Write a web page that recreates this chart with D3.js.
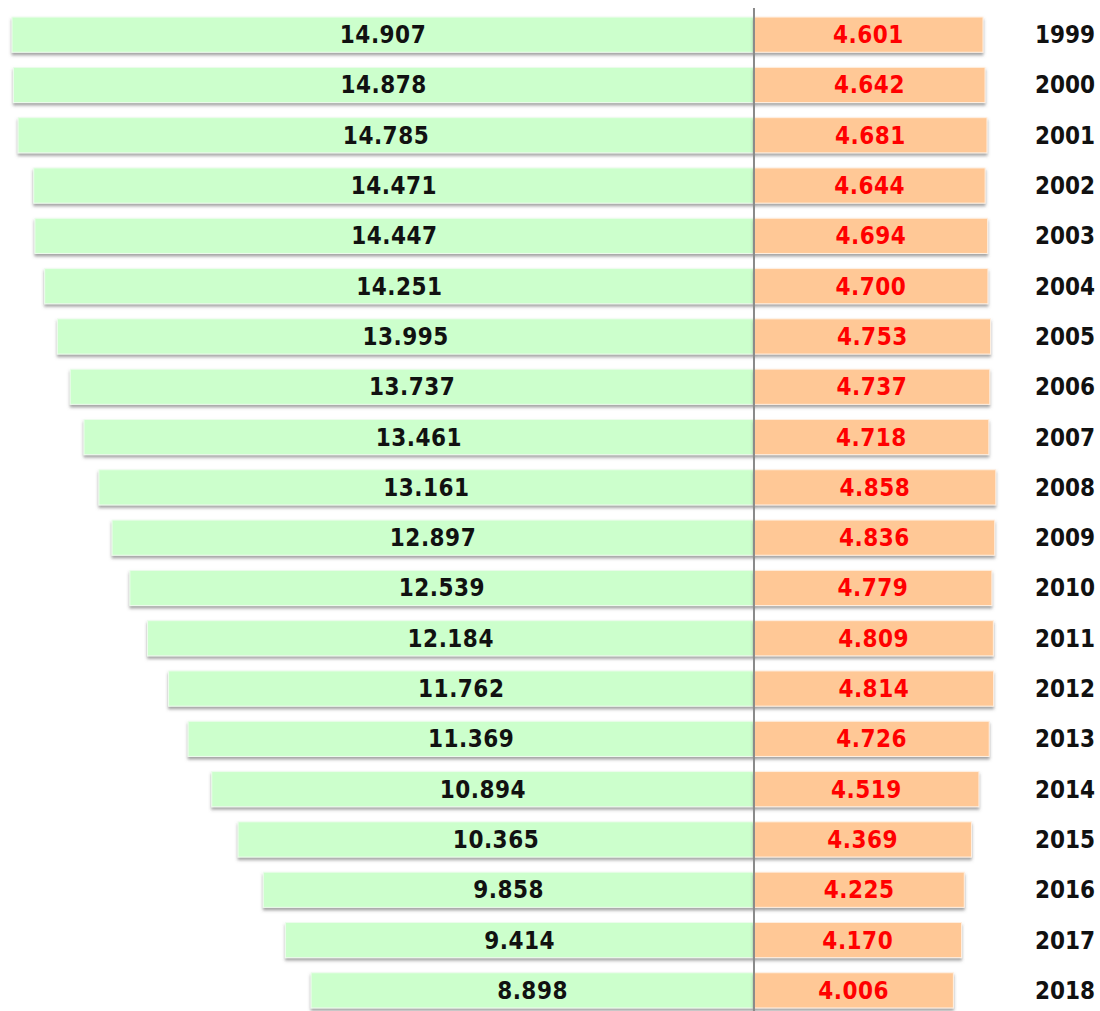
<!DOCTYPE html>
<html>
<head>
<meta charset="utf-8">
<script src="https://cdn.jsdelivr.net/npm/d3@7"></script>
<style>
  body { margin: 0; background: #fff; }
  svg text { font-family: "DejaVu Sans Condensed", "DejaVu Sans", sans-serif; font-stretch: condensed; font-weight: bold; }
</style>
</head>
<body>
<div id="chart"></div>
<script>
const years = [1999, 2000, 2001, 2002, 2003, 2004, 2005, 2006, 2007, 2008,
    2009, 2010, 2011, 2012, 2013, 2014, 2015, 2016, 2017, 2018];
const leftValues = [14.907, 14.878, 14.785, 14.471, 14.447, 14.251, 13.995, 13.737, 13.461, 13.161,
    12.897, 12.539, 12.184, 11.762, 11.369, 10.894, 10.365, 9.858, 9.414, 8.898];
const rightValues = [4.601, 4.642, 4.681, 4.644, 4.694, 4.700, 4.753, 4.737, 4.718, 4.858,
    4.836, 4.779, 4.809, 4.814, 4.726, 4.519, 4.369, 4.225, 4.170, 4.006];

const colors = {
    left: '#ccffcc',
    right: '#ffc896',
    leftText: '#111111',
    rightText: '#ff0000',
    year: '#111111',
    axis: '#8a8a8a'
};

const width = 1100;
const height = 1011;

const rows = years.map((year, i) => ({ year, left: leftValues[i], right: rightValues[i] }));

const x = d3.scaleLinear()
    .domain([-14.907, 4.601])
    .range([12, 983]);

const y = d3.scaleBand()
    .domain(years)
    .range([9.5, 1015.5])
    .paddingInner(0.3)
    .paddingOuter(0.15);

const fmt = d3.format('.3f');

const svg = d3.select('#chart')
    .append('svg')
    .attr('width', width)
    .attr('height', height);

// soft drop shadow under each bar
const filter = svg.append('defs')
    .append('filter')
    .attr('id', 'shadow')
    .attr('x', '-5%')
    .attr('y', '-20%')
    .attr('width', '110%')
    .attr('height', '160%');
filter.append('feDropShadow')
    .attr('dx', 0)
    .attr('dy', 2.5)
    .attr('stdDeviation', 1.5)
    .attr('flood-color', '#555')
    .attr('flood-opacity', 0.55);

const row = svg.selectAll('g.row')
    .data(rows)
    .enter()
    .append('g')
    .attr('class', 'row');

// green bars (left)
row.append('rect')
    .attr('x', d => x(-d.left))
    .attr('y', d => y(d.year))
    .attr('width', d => x(0) - x(-d.left))
    .attr('height', y.bandwidth())
    .attr('fill', colors.left)
    .attr('stroke', '#eefcee')
    .attr('stroke-width', 1)
    .attr('filter', 'url(#shadow)');

// orange bars (right)
row.append('rect')
    .attr('x', x(0))
    .attr('y', d => y(d.year))
    .attr('width', d => x(d.right) - x(0))
    .attr('height', y.bandwidth())
    .attr('fill', colors.right)
    .attr('stroke', '#fff0e2')
    .attr('stroke-width', 1)
    .attr('filter', 'url(#shadow)');

const fontSize = 24;

row.append('text')
    .attr('x', d => (x(-d.left) + x(0)) / 2)
    .attr('y', d => y(d.year) + y.bandwidth() / 2 + 8.5)
    .attr('text-anchor', 'middle')
    .attr('font-size', fontSize)
    .attr('letter-spacing', 0.5)
    .attr('fill', colors.leftText)
    .text(d => fmt(d.left));

row.append('text')
    .attr('x', d => (x(d.right) + x(0)) / 2)
    .attr('y', d => y(d.year) + y.bandwidth() / 2 + 8.5)
    .attr('text-anchor', 'middle')
    .attr('font-size', fontSize)
    .attr('letter-spacing', 0.5)
    .attr('fill', colors.rightText)
    .text(d => fmt(d.right));

// year labels
row.append('text')
    .attr('x', 1065)
    .attr('y', d => y(d.year) + y.bandwidth() / 2 + 8.5)
    .attr('text-anchor', 'middle')
    .attr('font-size', fontSize)
    .attr('fill', colors.year)
    .text(d => d.year);

// center axis line
svg.append('line')
    .attr('x1', x(0))
    .attr('x2', x(0))
    .attr('y1', 8)
    .attr('y2', height)
    .attr('stroke', colors.axis)
    .attr('stroke-width', 2);
</script>
</body>
</html>
